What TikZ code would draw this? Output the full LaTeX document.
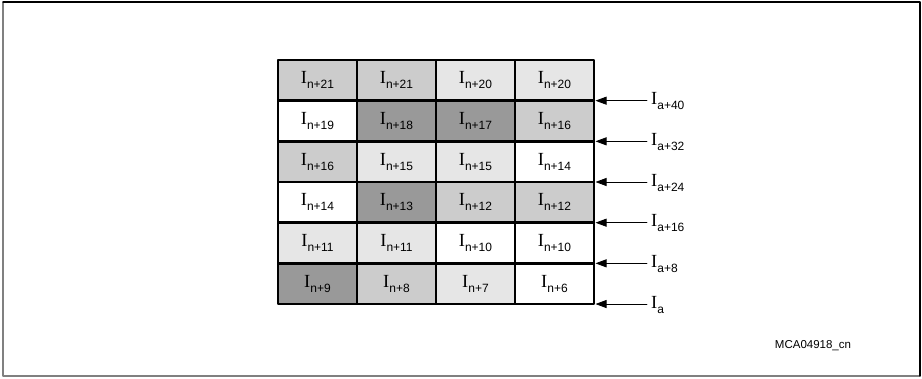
\documentclass[tikz,border=0pt]{standalone}
\usepackage{fontspec}
\setmainfont{Liberation Serif}
\setsansfont{Liberation Sans}
\usetikzlibrary{arrows.meta}

\definecolor{shadeD}{HTML}{999999}
\definecolor{shadeM}{HTML}{CCCCCC}
\definecolor{shadeL}{HTML}{E6E6E6}
\definecolor{frameG}{HTML}{808080}

% I with a sans subscript, as used in every cell and label
\newcommand{\Iidx}[1]{{\fontsize{18.5}{20}\selectfont I}\raisebox{-5pt}{\fontsize{12}{13}\selectfont\sffamily #1}}

\begin{document}
\begin{tikzpicture}[x=1pt, y=-1pt, >=Stealth, line cap=round, line join=round]

% ----------------------------
% PARAMETERS
% ----------------------------
\def\xO{278}      % left edge of the grid
\def\yO{60}       % top edge of the grid
\def\cw{79}       % cell width
\def\ch{40.67}    % cell height
\def\xtip{595.5}  % arrow tips (right edge of grid)
\def\xtail{647}   % arrow tails

\tikzset{
  cell/.style={draw, line width=2.6pt, minimum width=\cw pt, minimum height=\ch pt,
    inner sep=0pt, anchor=center},
  ptr/.style={line width=0.8pt, -{Triangle[length=11pt, width=8pt]}},
  idx/.style={anchor=base west, inner sep=0pt}
}

% ----------------------------
% FRAME
% ----------------------------
\useasboundingbox (0,0) rectangle (922,378);
\draw[frameG, line width=1.2pt] (920,376) -- (3,376) -- (3,2);
\draw[line width=1.2pt] (3,2) -- (920,2) -- (920,376);

% ----------------------------
% GRID OF CELLS
% ----------------------------
\foreach [count=\r] \cl in {
  {shadeM/n+21, shadeM/n+21, shadeL/n+20, shadeL/n+20},
  {white/n+19,  shadeD/n+18, shadeD/n+17, shadeM/n+16},
  {shadeM/n+16, shadeL/n+15, shadeL/n+15, white/n+14},
  {white/n+14,  shadeD/n+13, shadeM/n+12, shadeM/n+12},
  {shadeL/n+11, shadeL/n+11, white/n+10,  white/n+10},
  {shadeD/n+9,  shadeM/n+8,  shadeL/n+7,  white/n+6}}
{
  \foreach [count=\c] \f/\t in \cl
    \node[cell, fill=\f] (cell-\r-\c) at ({\xO+(\c-0.5)*\cw}, {\yO+(\r-0.5)*\ch}) {\Iidx{\t}};
}

% ----------------------------
% ADDRESS POINTERS
% ----------------------------
\foreach [count=\k] \lab in {a+40, a+32, a+24, a+16, a+8, a} {
  \coordinate (tip-\k) at (\xtip, {\yO+\k*\ch});
  \coordinate (tail-\k) at (\xtail, {\yO+\k*\ch});
  \draw[ptr] (tail-\k) -- (tip-\k);
  \node[idx] (lab-\k) at (651, {\yO+\k*\ch+4}) {\Iidx{\lab}};
}

% figure id
\node[font=\sffamily\fontsize{11.5}{13}\selectfont] (figid) at (813,346) {MCA04918\_cn};

\end{tikzpicture}
\end{document}
